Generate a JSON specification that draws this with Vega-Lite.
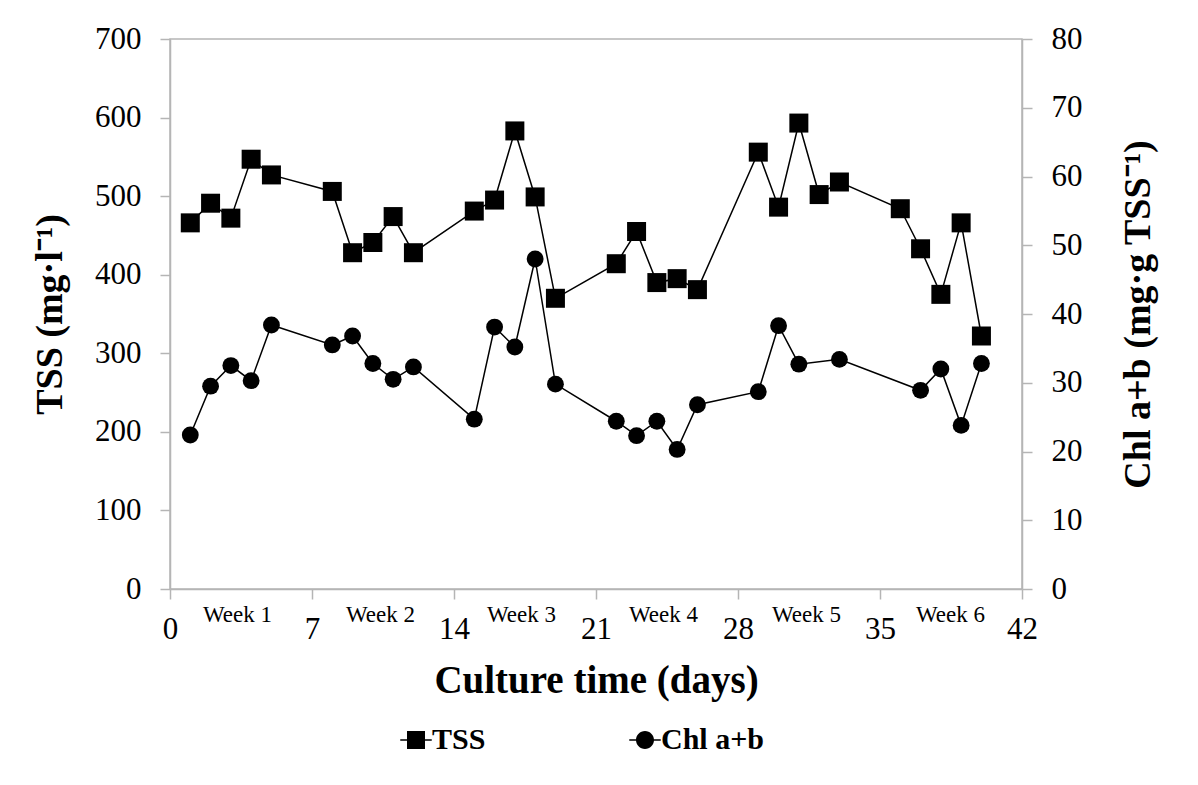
{
  "$schema": "https://vega.github.io/schema/vega-lite/v6.json",
  "width": 852,
  "height": 550,
  "autosize": {"type": "none"},
  "padding": {"left": 170, "top": 39, "right": 176, "bottom": 196},
  "background": "white",
  "data": {
    "values": [
      {"day": 1, "series": "TSS", "value": 466},
      {"day": 2, "series": "TSS", "value": 491},
      {"day": 3, "series": "TSS", "value": 472},
      {"day": 4, "series": "TSS", "value": 547},
      {"day": 5, "series": "TSS", "value": 527},
      {"day": 8, "series": "TSS", "value": 506},
      {"day": 9, "series": "TSS", "value": 428},
      {"day": 10, "series": "TSS", "value": 441},
      {"day": 11, "series": "TSS", "value": 474},
      {"day": 12, "series": "TSS", "value": 428},
      {"day": 15, "series": "TSS", "value": 481},
      {"day": 16, "series": "TSS", "value": 495},
      {"day": 17, "series": "TSS", "value": 583},
      {"day": 18, "series": "TSS", "value": 499},
      {"day": 19, "series": "TSS", "value": 370},
      {"day": 22, "series": "TSS", "value": 414},
      {"day": 23, "series": "TSS", "value": 455},
      {"day": 24, "series": "TSS", "value": 390},
      {"day": 25, "series": "TSS", "value": 395},
      {"day": 26, "series": "TSS", "value": 381},
      {"day": 29, "series": "TSS", "value": 556},
      {"day": 30, "series": "TSS", "value": 486},
      {"day": 31, "series": "TSS", "value": 593},
      {"day": 32, "series": "TSS", "value": 502},
      {"day": 33, "series": "TSS", "value": 518},
      {"day": 36, "series": "TSS", "value": 484},
      {"day": 37, "series": "TSS", "value": 433},
      {"day": 38, "series": "TSS", "value": 375},
      {"day": 39, "series": "TSS", "value": 466},
      {"day": 40, "series": "TSS", "value": 322},
      {"day": 1, "series": "Chl a+b", "value": 22.4},
      {"day": 2, "series": "Chl a+b", "value": 29.5},
      {"day": 3, "series": "Chl a+b", "value": 32.5},
      {"day": 4, "series": "Chl a+b", "value": 30.3},
      {"day": 5, "series": "Chl a+b", "value": 38.4},
      {"day": 8, "series": "Chl a+b", "value": 35.5},
      {"day": 9, "series": "Chl a+b", "value": 36.8},
      {"day": 10, "series": "Chl a+b", "value": 32.8},
      {"day": 11, "series": "Chl a+b", "value": 30.5},
      {"day": 12, "series": "Chl a+b", "value": 32.3},
      {"day": 15, "series": "Chl a+b", "value": 24.7},
      {"day": 16, "series": "Chl a+b", "value": 38.1},
      {"day": 17, "series": "Chl a+b", "value": 35.2},
      {"day": 18, "series": "Chl a+b", "value": 48.0},
      {"day": 19, "series": "Chl a+b", "value": 29.8},
      {"day": 22, "series": "Chl a+b", "value": 24.4},
      {"day": 23, "series": "Chl a+b", "value": 22.3},
      {"day": 24, "series": "Chl a+b", "value": 24.4},
      {"day": 25, "series": "Chl a+b", "value": 20.3},
      {"day": 26, "series": "Chl a+b", "value": 26.8},
      {"day": 29, "series": "Chl a+b", "value": 28.7},
      {"day": 30, "series": "Chl a+b", "value": 38.3},
      {"day": 31, "series": "Chl a+b", "value": 32.7},
      {"day": 33, "series": "Chl a+b", "value": 33.4},
      {"day": 37, "series": "Chl a+b", "value": 28.9},
      {"day": 38, "series": "Chl a+b", "value": 32.0},
      {"day": 39, "series": "Chl a+b", "value": 23.8},
      {"day": 40, "series": "Chl a+b", "value": 32.8}
    ]
  },
  "config": {
    "view": {"stroke": "#b5b5b5", "strokeWidth": 1.5},
    "axis": {
      "domainColor": "#b5b5b5",
      "domainWidth": 1.5,
      "tickColor": "#b5b5b5",
      "tickWidth": 1.5,
      "tickSize": 10,
      "grid": false,
      "labelFont": "Liberation Serif",
      "labelFontSize": 31,
      "labelColor": "#000000",
      "labelPadding": 19,
      "titleFont": "Liberation Serif",
      "titleFontSize": 38,
      "titleFontWeight": "bold",
      "titleColor": "#000000"
    }
  },
  "layer": [
    {
      "transform": [{"filter": "datum.series === 'TSS'"}],
      "encoding": {
        "x": {
          "field": "day",
          "type": "quantitative",
          "scale": {"domain": [0, 42], "nice": false, "zero": true},
          "axis": {
            "orient": "bottom",
            "values": [0, 7, 14, 21, 28, 35, 42],
            "title": "Culture time (days)",
            "titleFontSize": 39,
            "labelPadding": 15,
            "titlePadding": 17,
            "labelFlush": false
          }
        },
        "y": {
          "field": "value",
          "type": "quantitative",
          "scale": {"domain": [0, 700], "nice": false},
          "axis": {
            "orient": "left",
            "values": [0, 100, 200, 300, 400, 500, 600, 700],
            "title": "TSS (mg·l⁻¹)",
            "titlePadding": 25
          }
        }
      },
      "layer": [
        {"mark": {"type": "line", "color": "#000000", "strokeWidth": 1.5}},
        {"mark": {"type": "point", "shape": "square", "filled": true, "opacity": 1, "color": "#000000", "size": 361}}
      ]
    },
    {
      "transform": [{"filter": "datum.series === 'Chl a+b'"}],
      "encoding": {
        "x": {
          "field": "day",
          "type": "quantitative",
          "scale": {"domain": [0, 42], "nice": false, "zero": true},
          "axis": {
            "orient": "bottom",
            "values": [3.3, 10.35, 17.3, 24.3, 31.35, 38.45],
            "labelExpr": "'Week ' + round((datum.value + 3.7) / 7)",
            "ticks": false,
            "tickSize": 0,
            "domain": false,
            "labelFontSize": 23,
            "labelPadding": 14,
            "labelFlush": false,
            "labelOverlap": false,
            "title": null
          }
        },
        "y": {
          "field": "value",
          "type": "quantitative",
          "scale": {"domain": [0, 80], "nice": false},
          "axis": {
            "orient": "right",
            "values": [0, 10, 20, 30, 40, 50, 60, 70, 80],
            "title": "Chl a+b (mg·g TSS⁻¹)",
            "titleAngle": 270,
            "titleBaseline": "top",
            "titlePadding": 37
          }
        }
      },
      "layer": [
        {"mark": {"type": "line", "color": "#000000", "strokeWidth": 1.5}},
        {"mark": {"type": "point", "shape": "circle", "filled": true, "opacity": 1, "color": "#000000", "size": 284}}
      ]
    },
    {
      "transform": [{"filter": "datum.day < 0"}],
      "mark": {"type": "point", "filled": true, "opacity": 1, "color": "#000000"},
      "encoding": {
        "shape": {
          "field": "series",
          "type": "nominal",
          "scale": {
            "domain": ["TSS", "Chl a+b"],
            "range": [
              "M-1,-1H1V1H-1Z M-1.75,-0.085H1.75V0.085H-1.75Z",
              "M1,0A1,1,0,1,1,-1,0A1,1,0,1,1,1,0Z M-1.75,-0.085H1.75V0.085H-1.75Z"
            ]
          },
          "legend": {
            "orient": "none",
            "legendX": 231,
            "legendY": 686,
            "direction": "horizontal",
            "title": null,
            "labelFont": "Liberation Serif",
            "labelFontSize": 30,
            "labelFontWeight": "bold",
            "labelColor": "#000000",
            "symbolSize": 324,
            "symbolOpacity": 1,
            "symbolFillColor": "#000000",
            "symbolStrokeWidth": 0,
            "labelOffset": 1,
            "columnPadding": 143
          }
        }
      }
    }
  ],
  "resolve": {"scale": {"y": "independent"}, "axis": {"x": "independent", "y": "independent"}}
}
